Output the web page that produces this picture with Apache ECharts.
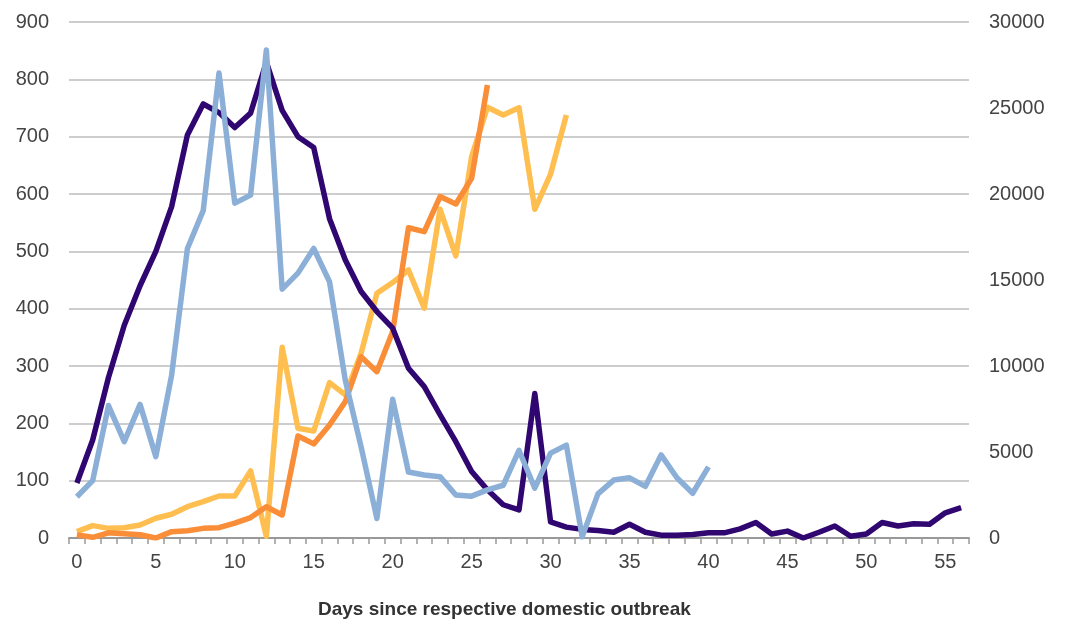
<!DOCTYPE html>
<html>
<head>
<meta charset="utf-8">
<script src="https://cdn.jsdelivr.net/npm/echarts@6/dist/echarts.min.js"></script>
<style>html,body{margin:0;padding:0;background:#fff;}#chart{width:1065px;height:623px;}</style>
</head>
<body>
<div id="chart"></div>
<script>
const days = Array.from({length: 57}, (_, i) => String(i));
const purple = [96,171,280,371,440,500,578,703,757,742,716,741,830,746,700,681,557,485,430,395,366,296,264,215,168,116,84,58,49,252,28,19,15,13,10,24,10,5,5,6,9,9,16,27,7,12,0,10,21,3,7,27,21,25,24,44,53];
const blue = [72,100,231,168,233,142,284,505,571,811,584,598,851,434,462,505,447,275,159,34,242,115,110,107,75,73,84,92,153,87,148,162,2,77,101,105,90,145,105,78,124];
const orange = [180,40,300,250,190,0,370,420,560,600,870,1190,1820,1340,5930,5470,6570,7930,10540,9670,12000,18040,17810,19850,19420,20910,26340];
const yellow = [370,720,560,600,760,1150,1380,1820,2110,2440,2440,3900,100,11090,6380,6220,9030,8320,10740,14230,14850,15580,13360,19110,16400,22170,25040,24590,25020,19110,21160,24590];
const xTitle = 'Days since respective domestic outbreak';

const FONT = '"Liberation Sans", Arial, sans-serif';
const chart = echarts.init(document.getElementById('chart'), null, {renderer: 'canvas'});
function line(name, data, color, axis) {
  return {name, type: 'line', data, yAxisIndex: axis, symbol: 'none', showSymbol: false,
    lineStyle: {color, width: 5.5, join: 'round'}, itemStyle: {color}, animation: false};
}
chart.setOption({
  animation: false,
  grid: {left: 69, right: 96, top: 22, bottom: 85},
  xAxis: {
    type: 'category', data: days, boundaryGap: true,
    axisLine: {lineStyle: {color: '#999', width: 2}},
    axisTick: {show: true, interval: 0, length: 6, lineStyle: {color: '#999', width: 1.5}},
    axisLabel: {interval: 4, fontFamily: FONT, fontSize: 20, color: '#444', margin: 14}
  },
  yAxis: [
    {type: 'value', min: 0, max: 900, interval: 100,
     axisLine: {show: false}, axisTick: {show: false},
     splitLine: {lineStyle: {color: '#bdbdbd', width: 1.5}},
     axisLabel: {fontFamily: FONT, fontSize: 20, color: '#444', margin: 20}},
    {type: 'value', min: 0, max: 30000, interval: 5000, position: 'right',
     axisLine: {show: false}, axisTick: {show: false}, splitLine: {show: false},
     axisLabel: {fontFamily: FONT, fontSize: 20, color: '#444', margin: 20,
       formatter: v => String(v)}}
  ],
  series: [
    line('Yellow', yellow, '#ffbe50', 1),
    line('Orange', orange, '#f98d38', 1),
    line('Purple', purple, '#300670', 0),
    line('Blue', blue, '#8cafd7', 0)
  ],
  graphic: [{type: 'text', left: 318, top: 600,
    style: {text: xTitle, fontFamily: FONT, fontSize: 19, fontWeight: 'bold', fill: '#333'}}]
});
</script>
</body>
</html>
